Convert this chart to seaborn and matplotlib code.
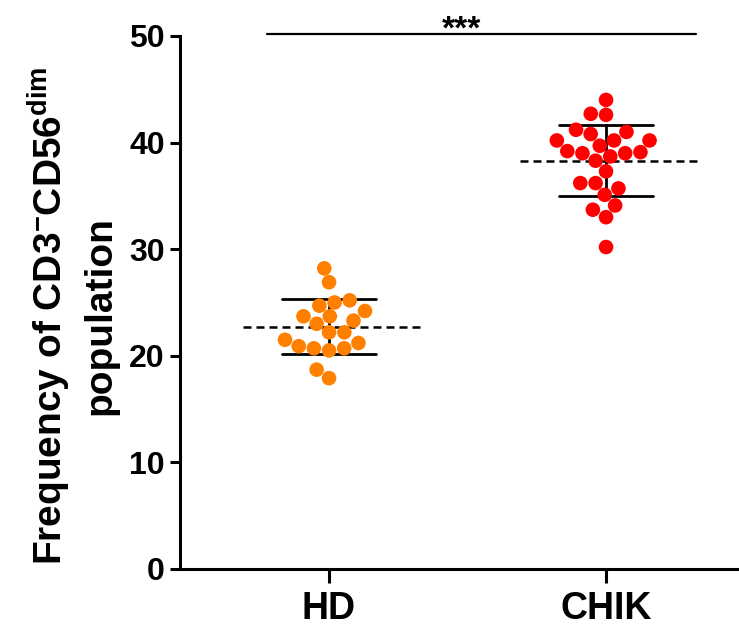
import numpy as np
import pandas as pd
import seaborn as sns
import matplotlib.pyplot as plt

sns.set_theme(style="ticks")
plt.rcParams['font.family'] = ['Liberation Sans', 'DejaVu Sans']
plt.rcParams['font.weight'] = 'bold'
plt.rcParams['text.color'] = 'black'
plt.rcParams['axes.labelcolor'] = 'black'
plt.rcParams['mathtext.fontset'] = 'custom'
plt.rcParams['mathtext.rm'] = 'Liberation Sans:bold'
plt.rcParams['mathtext.bf'] = 'Liberation Sans:bold'
plt.rcParams['mathtext.it'] = 'Liberation Sans:bold'

# values
groups = ["HD", "CHIK"]
hd_values = [28.2, 26.9, 25.0, 25.2, 24.7, 23.7, 24.2, 23.7, 23.0, 23.3,
             22.2, 22.2, 21.5, 20.9, 20.7, 20.5, 20.7, 21.2, 18.7, 17.9]
chik_values = [44.0, 42.6, 42.7, 41.0, 41.2, 40.2, 40.2, 40.2, 40.8, 39.7,
               39.2, 39.1, 38.7, 39.0, 39.0, 38.3, 37.3, 36.2, 36.2, 35.7,
               35.1, 33.7, 34.1, 33.0, 30.2]
colors = ["#FF8000", "#FF0000"]
yticks = [0, 10, 20, 30, 40, 50]
sig_text = "***"

df = pd.DataFrame({
    "group": ["HD"] * len(hd_values) + ["CHIK"] * len(chik_values),
    "value": hd_values + chik_values,
})

fig = plt.figure(figsize=(7.39, 6.31), dpi=100)
ax = fig.add_axes([0.2436, 0.0983, 0.7564, 0.8447])

sns.swarmplot(data=df, x="group", y="value", hue="group", order=groups,
              palette=colors, size=10.5, linewidth=0, legend=False, ax=ax)

# mean +/- SD
sns.pointplot(data=df, x="group", y="value", order=groups, errorbar="sd",
              capsize=0.34, color="black", linestyle="none", marker="",
              err_kws={"linewidth": 2.0}, ax=ax)

means = df.groupby("group")["value"].mean().reindex(groups)
for i, m in enumerate(means):
    ax.hlines(m, i - 0.31, i + 0.33, colors="black", linewidth=1.8,
              linestyles=(0, (3.2, 2.0)), zorder=1)

# significance bar
ax.plot([-0.224, 1.325], [50.2, 50.2], color="black", linewidth=1.6,
        clip_on=False)
ax.text(0.48, 49.8, sig_text, ha="center", va="baseline", fontsize=24,
        fontweight="bold", color="black", clip_on=False)

ax.set_xlim(-0.538, 1.48)
ax.set_ylim(0, 50)
ax.set_yticks(yticks)
ax.set_xlabel("")
ax.set_ylabel("Frequency of CD3$^{-}$CD56$^{\\mathbf{dim}}$\npopulation",
              fontsize=28, fontweight="bold", color="black",
              linespacing=1.35)
ax.yaxis.set_label_coords(-0.11, 0.476)

for s in ["top", "right"]:
    ax.spines[s].set_visible(False)
for s in ["left", "bottom"]:
    ax.spines[s].set_linewidth(2.2)
    ax.spines[s].set_color("black")

ax.tick_params(axis="y", labelsize=23, length=7, width=2.2, pad=4,
               colors="black")
ax.tick_params(axis="x", labelsize=27, length=10, width=2.2, pad=6,
               colors="black")
for lab in ax.get_xticklabels() + ax.get_yticklabels():
    lab.set_fontweight("bold")

fig.savefig("out.png", dpi=100)
